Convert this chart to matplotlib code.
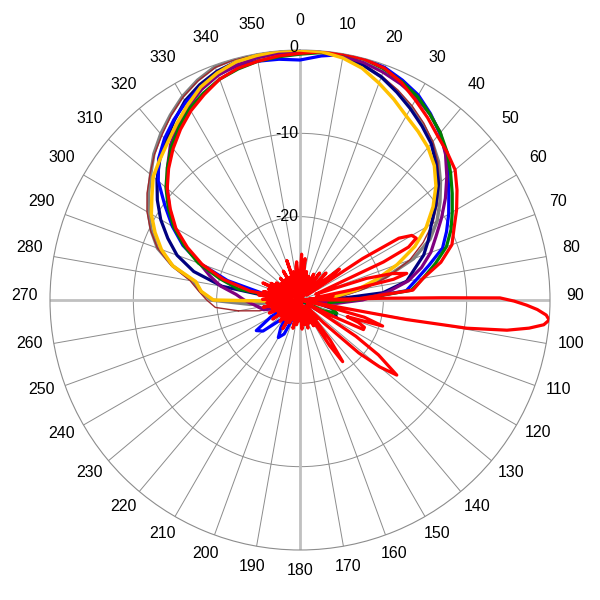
import numpy as np
import matplotlib
matplotlib.use("Agg")
import matplotlib.pyplot as plt

plt.rcParams['font.family'] = ['Liberation Sans', 'DejaVu Sans']

# angles of the main lobe samples, -100 (=260) .. 100 degrees
main_deg = list(range(-100, 105, 5))

yellow = [-30, -28, -19.6, -18.1, -17.3, -14.2, -12.3, -10.8, -9.4, -8.3, -7.0, -6.2, -5.3, -4.2,
          -3.0, -1.8, -1.0, -0.4, -0.2, 0, 0, -0.1, -0.5, -1.2, -2.3, -3.4, -4.5, -5.3, -6.1, -7.2,
          -8.7, -10.5, -12.5, -14.8, -17.6, -20.5, -23.1, -26.0, -28.5, -30, -30]
gray = [-30, -24, -19.3, -18.0, -17.0, -14.2, -11.8, -10.3, -9.0, -7.8, -6.6, -5.2, -4.0, -2.9,
        -1.8, -0.9, -0.2, 0, 0, 0, 0, 0, -0.3, -0.8, -1.5, -2.4, -3.3, -4.3, -5.3, -6.5,
        -8.0, -9.5, -11.0, -12.8, -15.5, -19.3, -22.7, -25.5, -28, -30, -30]
brown = [-22.5, -19.8, -18.8, -17.8, -16.6, -14.0, -11.8, -10.2, -8.8, -7.6, -6.5, -5.3, -4.2, -3.0,
         -1.9, -1.0, -0.3, -0.1, 0, 0, 0, -0.1, -0.3, -0.8, -1.4, -2.2, -3.1, -4.1, -5.2, -6.6,
         -8.2, -9.9, -11.6, -13.7, -16.0, -19.0, -22.0, -25.0, -28, -30, -30]
navy = [-30, -30, -30, -27, -20.5, -16.8, -14.3, -12.5, -10.7, -9.1, -7.6, -6.2, -5.0, -3.7,
        -2.4, -1.5, -0.8, -0.4, -0.1, 0, 0, 0, -0.3, -0.8, -1.5, -2.5, -3.5, -4.5, -5.5, -6.9,
        -8.3, -10.1, -11.8, -13.0, -14.2, -15.8, -17.0, -20.0, -26.5, -29, -28]
blue = [-30, -30, -30, -30, -25.5, -21, -17.3, -14.5, -12.3, -10.2, -7.8, -6.0, -4.7, -3.6,
        -2.6, -1.8, -1.2, -0.9, -0.9, -1.0, -1.2, -0.6, -0.1, 0, -0.3, -0.9, -1.6, -2.7, -3.9, -5.2,
        -6.8, -8.2, -9.4, -10.6, -11.8, -14.0, -15.8, -17.2, -23.5, -29, -30]
green = [-30, -30, -30, -28, -22.5, -20, -17, -14.7, -12.5, -10.7, -9.0, -7.5, -6.0, -4.7,
         -3.5, -2.6, -1.8, -1.3, -0.9, -0.7, -0.5, -0.2, 0, -0.1, -0.5, -1.1, -1.8, -2.8, -3.8, -5.0,
         -6.4, -7.7, -8.9, -10.0, -11.3, -13.2, -15.0, -16.6, -23.5, -26.5, -26.5]
purple = [-25, -24.3, -23.3, -22.3, -20.3, -18.8, -17.2, -14.8, -12.6, -10.9, -9.2, -7.5, -5.8, -4.4,
          -3.2, -2.1, -1.3, -0.8, -0.5, -0.3, -0.2, -0.2, -0.3, -0.5, -0.9, -1.4, -2.0, -2.8, -3.8, -5.3,
          -7.0, -8.7, -10.4, -12.0, -13.3, -14.9, -16.8, -19.5, -22.5, -25.5, -28]
red = [-30, -30, -30, -30, -24, -20.5, -17.5, -15.1, -12.8, -11.0, -9.2, -7.7, -6.3, -5.0,
       -3.8, -2.8, -1.8, -1.2, -0.9, -0.6, -0.4, -0.1, 0, -0.1, -0.4, -1.2, -2.3, -3.3, -4.3, -5.0,
       -5.7, -7.0, -8.3, -9.6, -10.6, -12.5, -15.0, -16.4, -24, -30, -30]

# small back lobes
brown_back_deg = [240, 250, 255, 260]
brown_back = [-30, -29, -25, -22.5]
navy_back_deg = [100, 105, 110, 115, 120, 125]
navy_back = [-28, -26, -25.5, -25.2, -27, -30]
green_back_deg = [100, 105, 110, 115, 120]
green_back = [-26.5, -26, -25.3, -27, -30]
blue_back_deg = [195, 200, 205, 210, 215, 220, 225, 230, 235, 240, 245, 250]
blue_back = [-30, -28, -25.5, -24.8, -26, -27.5, -26.5, -24.2, -23.6, -26, -28.5, -30]
purple_back_deg = [100, 105, 195, 200, 205, 245, 250, 255, 260]
purple_back = [-28, -30, -30, -28, -30, -30, -27, -25.5, -25]

# red trace with side lobes
red_lobe_deg = [0, 2, 4, 7, 10, 13, 16, 20, 24, 28, 32, 36, 40, 44, 48, 52, 55, 56.5, 58, 60, 62, 64,
                65.5, 67, 70, 72, 74, 76, 77.5, 79, 81, 83, 85, 87, 88.4, 88.8, 89.1, 89.4, 90.3, 91.3,
                92.3, 93.5, 94.6, 95.8, 97, 98.3, 99.6, 100.4, 100.7, 103, 105, 107.5, 109.5, 111, 113,
                115, 116.5, 118, 121, 123, 125, 127.8, 130, 132, 134, 136, 138, 141, 143, 145.3, 147,
                149, 152, 155, 158, 161, 164, 167, 170, 173, 176, 179, 182, 185, 188, 191, 194, 197,
                199, 202, 205, 208, 211, 214, 217, 220, 223, 226, 229, 232, 235, 238, 241, 244, 247,
                250, 253, 256, 259, 262, 265, 268, 271, 274, 277, 280, 283, 286, 289, 292, 294.7, 297,
                300, 303, 306, 309, 312, 315, 318, 321, 324, 327, 330, 333, 336, 339, 341.6, 344, 347,
                350, 353, 355, 357, 360]
red_lobe = [-30, -24.5, -29, -25, -29, -26.5, -30, -27, -30, -26.5, -29, -26, -29.5, -25.5, -28, -24,
            -29, -21, -16, -14.5, -14.2, -15.5, -19, -26, -28, -21.6, -18.5, -16.8, -18.5, -24, -28,
            -26, -29, -27, -30, -20, -13, -6, -4.3, -2.8, -1.5, -0.4, 0, -0.6, -2.3, -4.9, -9.7, -17,
            -30, -27, -22, -19.6, -24, -22.5, -21.6, -21.6, -26, -29, -27, -22, -18.5, -15.3, -17.5,
            -20.5, -26, -29, -27, -29, -24, -21, -23.5, -29, -26.5, -29, -27, -30, -26.5, -29, -27,
            -30, -26.5, -29, -27.5, -30, -27, -29.5, -26.5, -29, -27.5, -30, -27, -29.5, -26, -29,
            -27, -30, -26.5, -29, -27, -30, -26, -29, -27, -30, -26, -29, -26.5, -29.5, -25.5, -29,
            -26, -29.5, -25.5, -29, -25, -28, -25.5, -29, -26, -28.5, -25.1, -29, -26, -29.5, -26.5,
            -29, -27, -30, -26.5, -29, -27, -29.5, -26, -29, -27, -29, -25, -29, -26.5, -29, -26,
            -25.4, -29, -30]

angle_labels = list(range(0, 360, 10))
radial_labels = [0, -10, -20]

fig = plt.figure(figsize=(6, 6), dpi=100)
ax = fig.add_axes([50 / 600, 50 / 600, 500 / 600, 500 / 600], projection='polar')
ax.set_theta_zero_location('N')
ax.set_theta_direction(-1)
ax.set_ylim(-30, 0)

ax.set_xticks(np.deg2rad(angle_labels))
ax.set_xticklabels([])
ax.set_yticks([-20, -10])
ax.set_yticklabels([])
ax.tick_params(length=0)
ax.grid(True, color='#8c8c8c', lw=0.7)
ax.set_axisbelow(True)
ax.spines['polar'].set_color('#8c8c8c')
ax.spines['polar'].set_linewidth(0.8)

for a in [0, 90, 180, 270]:
    ax.plot([np.deg2rad(a)] * 2, [-30, 0], color='#c0c0c0', lw=2, zorder=1)

lw = 2.3
th = np.deg2rad(main_deg)
ax.plot(th, gray, color='#808080', lw=2.5, zorder=2)
ax.plot(th, brown, color='#a0282d', lw=1.0, zorder=2.1)
ax.plot(np.deg2rad(brown_back_deg), brown_back, color='#a0282d', lw=1.0, zorder=2.1)
ax.plot(th, navy, color='#000080', lw=lw, zorder=2.2)
ax.plot(np.deg2rad(navy_back_deg), navy_back, color='#000080', lw=lw, zorder=2.2)
ax.plot(th, blue, color='#0000ff', lw=lw, zorder=2.3)
ax.plot(np.deg2rad(blue_back_deg), blue_back, color='#0000ff', lw=lw, zorder=2.3)
ax.plot(th, purple, color='#800080', lw=lw, zorder=2.4)
ax.plot(np.deg2rad(purple_back_deg), purple_back, color='#800080', lw=lw, zorder=2.4)
ax.plot(th, green, color='#008000', lw=lw, zorder=2.5)
ax.plot(np.deg2rad(green_back_deg), green_back, color='#008000', lw=lw, zorder=2.5)
ax.plot(th, red, color='#ff0000', lw=lw, zorder=2.6)
ax.plot(th, yellow, color='#ffc000', lw=2.5, zorder=2.7)
ax.plot(np.deg2rad(red_lobe_deg), red_lobe, color='#ff0000', lw=lw, zorder=2.8)

# angle labels just outside the ring
for a in angle_labels:
    t = np.deg2rad(a)
    ax.annotate(str(a), xy=(t, 0), xytext=(25 * np.sin(t) * 0.72, (25 * np.cos(t) + 4.5) * 0.72),
                textcoords='offset points', ha='center', va='center', fontsize=11.5,
                annotation_clip=False)

for r in radial_labels:
    dy = 2 if r == 0 else 0
    ax.annotate(str(r), xy=(0, r), xytext=(-1, dy), textcoords='offset points',
                ha='right', va='center', fontsize=11.5, zorder=3, annotation_clip=False)

fig.savefig('out.png', dpi=100)
